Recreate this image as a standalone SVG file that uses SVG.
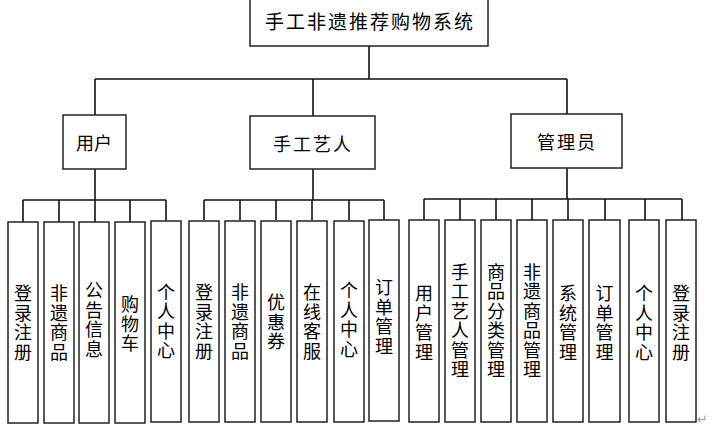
<svg xmlns="http://www.w3.org/2000/svg" width="713" height="426" viewBox="0 0 713 426">
<style>
  .box { fill: #ffffff; stroke: #222; stroke-width: 1.5; }
  .ln { fill: none; stroke: #111; stroke-width: 1.6; }
  .t { font-family: "Noto Sans CJK SC", "Noto Sans", sans-serif; font-size: 18px; fill: #000; text-anchor: middle; dominant-baseline: central; }
  .title { font-size: 19px; letter-spacing: 2px; }
  .v { font-family: "Noto Sans CJK SC", "Noto Sans", sans-serif; font-size: 18px; fill: #000; text-anchor: middle; writing-mode: vertical-rl; text-orientation: upright; letter-spacing: 1.5px; }
  .mark { font-family: "DejaVu Sans", sans-serif; font-size: 13px; fill: #999; }
</style>
<rect x="0" y="0" width="713" height="426" fill="#ffffff"/>

<g id="connectors">
  <path class="ln" d="M369 46 V79 M95 79 H567 M95 79 V115 M313 79 V116 M567 79 V114"/>
  <path class="ln" d="M95 169 V200 M23 200 H166 M23 200 V222 M59 200 V222 M95 200 V222 M130 200 V222 M166 200 V221"/>
  <path class="ln" d="M313 169 V200 M204 200 H384 M204 200 V220 M240 200 V220 M276 200 V220 M312 200 V220 M349 200 V220 M384 200 V220"/>
  <path class="ln" d="M567 168 V199 M424 199 H682 M424 199 V220 M460 199 V220 M496 199 V220 M532 199 V220 M568 199 V220 M605 199 V220 M645 199 V220 M682 199 V220"/>
</g>

<g id="root">
  <rect class="box" x="250" y="-2" width="238" height="48"/>
  <text class="t title" x="370" y="20">手工非遗推荐购物系统</text>
</g>

<g id="user">
  <rect class="box" x="63" y="115" width="63" height="54"/>
  <text class="t" x="94" y="142">用户</text>
</g>
<g id="artisan">
  <rect class="box" x="250" y="116" width="125" height="53"/>
  <text class="t" x="313" y="143" letter-spacing="2">手工艺人</text>
</g>
<g id="admin">
  <rect class="box" x="511" y="114" width="111" height="54"/>
  <text class="t" x="567" y="141" letter-spacing="2">管理员</text>
</g>

<!-- user leaves -->
<g id="u1"><rect class="box" x="8" y="222" width="30" height="201"/><text class="v" x="23" y="323.5">登录注册</text></g>
<g id="u2"><rect class="box" x="44" y="222" width="30" height="201"/><text class="v" x="59" y="323.5">非遗商品</text></g>
<g id="u3"><rect class="box" x="79" y="222" width="30" height="201"/><text class="v" x="94" y="320.5">公告信息</text></g>
<g id="u4"><rect class="box" x="115" y="222" width="30" height="201"/><text class="v" x="130" y="324.5">购物车</text></g>
<g id="u5"><rect class="box" x="151" y="221" width="30" height="201"/><text class="v" x="166" y="322">个人中心</text></g>

<!-- artisan leaves -->
<g id="a1"><rect class="box" x="189" y="221" width="30" height="201"/><text class="v" x="204" y="322.5">登录注册</text></g>
<g id="a2"><rect class="box" x="225" y="221" width="30" height="201"/><text class="v" x="240" y="322.5">非遗商品</text></g>
<g id="a3"><rect class="box" x="261" y="221" width="30" height="201"/><text class="v" x="276" y="322.5">优惠券</text></g>
<g id="a4"><rect class="box" x="297" y="221" width="30" height="201"/><text class="v" x="312" y="322.5">在线客服</text></g>
<g id="a5"><rect class="box" x="334" y="221" width="30" height="201"/><text class="v" x="349" y="320.5">个人中心</text></g>
<g id="a6"><rect class="box" x="369" y="220" width="30" height="201"/><text class="v" x="384" y="317.5">订单管理</text></g>

<!-- admin leaves -->
<g id="m1"><rect class="box" x="409" y="220" width="30" height="202"/><text class="v" x="424" y="323.5">用户管理</text></g>
<g id="m2"><rect class="box" x="445" y="220" width="30" height="202"/><text class="v" x="460" y="321.5">手工艺人管理</text></g>
<g id="m3"><rect class="box" x="481" y="220" width="30" height="202"/><text class="v" x="496" y="321.5">商品分类管理</text></g>
<g id="m4"><rect class="box" x="517" y="220" width="30" height="202"/><text class="v" x="532" y="321.5">非遗商品管理</text></g>
<g id="m5"><rect class="box" x="553" y="220" width="30" height="202"/><text class="v" x="568" y="323.5">系统管理</text></g>
<g id="m6"><rect class="box" x="589" y="220" width="31" height="202"/><text class="v" x="604.5" y="323.5">订单管理</text></g>
<g id="m7"><rect class="box" x="629" y="220" width="30" height="202"/><text class="v" x="644" y="323.5">个人中心</text></g>
<g id="m8"><rect class="box" x="666" y="220" width="30" height="202"/><text class="v" x="681" y="323.5">登录注册</text></g>

<text class="mark" x="697" y="424">↵</text>
</svg>
